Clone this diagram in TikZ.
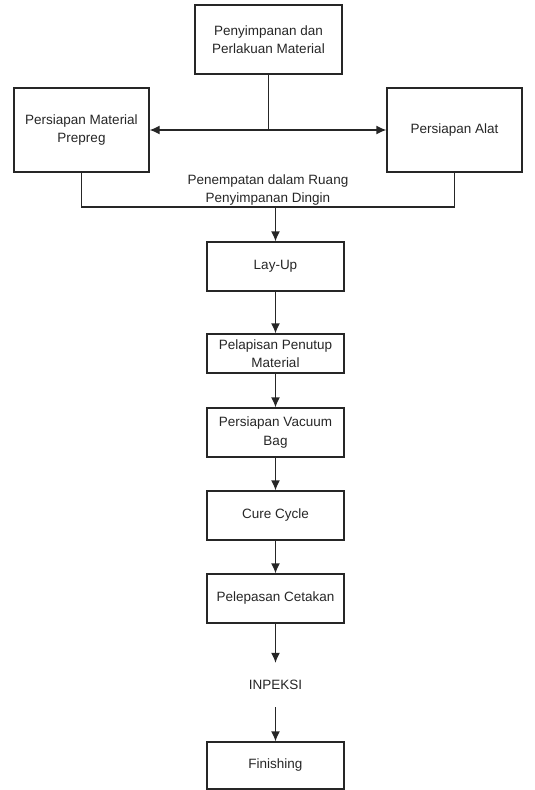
\documentclass[tikz,border=0pt]{standalone}
\usepackage{fontspec}
\setmainfont{Liberation Sans}
\usepackage{xcolor}
\usepackage{tikz}
\usetikzlibrary{calc, arrows.meta, positioning}

\begin{document}
\begin{tikzpicture}[x=1pt, y=-1pt, >={Latex[length=10pt, width=9pt]},
    every node/.style={font=\fontsize{13.5}{18.5}\selectfont, text=black!85},
    box/.style={draw=black!85, line width=1.3pt, align=center, inner sep=2pt},
    label/.style={align=center, inner sep=2pt},
    line/.style={draw=black!85, line width=1.3pt}]
    % 1. Khung trang
    \useasboundingbox (0,0) rectangle (535,790);

    % 2. Ba hop phia tren
    \node[box, minimum width=147pt, minimum height=69pt] (store) at (268.5,39.5)
        {Penyimpanan dan\\Perlakuan Material};
    \node[box, minimum width=135pt, minimum height=84pt] (prep) at (81.5,130)
        {Persiapan Material\\Prepreg};
    \node[box, minimum width=135pt, minimum height=84pt] (tool) at (454.5,130)
        {Persiapan Alat};
    \node[label] (cold) at (268,190) {Penempatan dalam Ruang\\Penyimpanan Dingin};

    % 3. Cac buoc chinh
    \node[box, minimum width=137pt, minimum height=49pt] (layup) at (275.5,266.5) {Lay-Up};
    \node[box, minimum width=137pt, minimum height=39pt] (coat) at (275.5,353.5)
        {Pelapisan Penutup\\Material};
    \node[box, minimum width=137pt, minimum height=49pt] (bag) at (275.5,432.5)
        {Persiapan Vacuum\\Bag};
    \node[box, minimum width=137pt, minimum height=49pt] (cure) at (275.5,515.5) {Cure Cycle};
    \node[box, minimum width=137pt, minimum height=49pt] (release) at (275.5,598.5)
        {Pelepasan Cetakan};
    \node[label, minimum height=44pt] (insp) at (275.5,685) {INPEKSI};
    \node[box, minimum width=137pt, minimum height=47pt] (finish) at (275.5,765.5) {Finishing};

    % 4. Duong noi phia tren
    \coordinate (split) at (store.south |- prep.east);
    \draw[line] (store) -- (split);
    \draw[line, <->] (prep) -- (tool);
    \coordinate (merge) at (268,207);
    \draw[line] (prep.south) |- (merge) -| (tool.south);
    \draw[line, ->] (layup.north |- merge) -- (layup);

    % 5. Mui ten giua cac buoc
    \draw[line, ->] (layup) -- (coat);
    \draw[line, ->] (coat) -- (bag);
    \draw[line, ->] (bag) -- (cure);
    \draw[line, ->] (cure) -- (release);
    \draw[line, ->] (release) -- (insp);
    \draw[line, ->] (insp) -- (finish);
\end{tikzpicture}
\end{document}
